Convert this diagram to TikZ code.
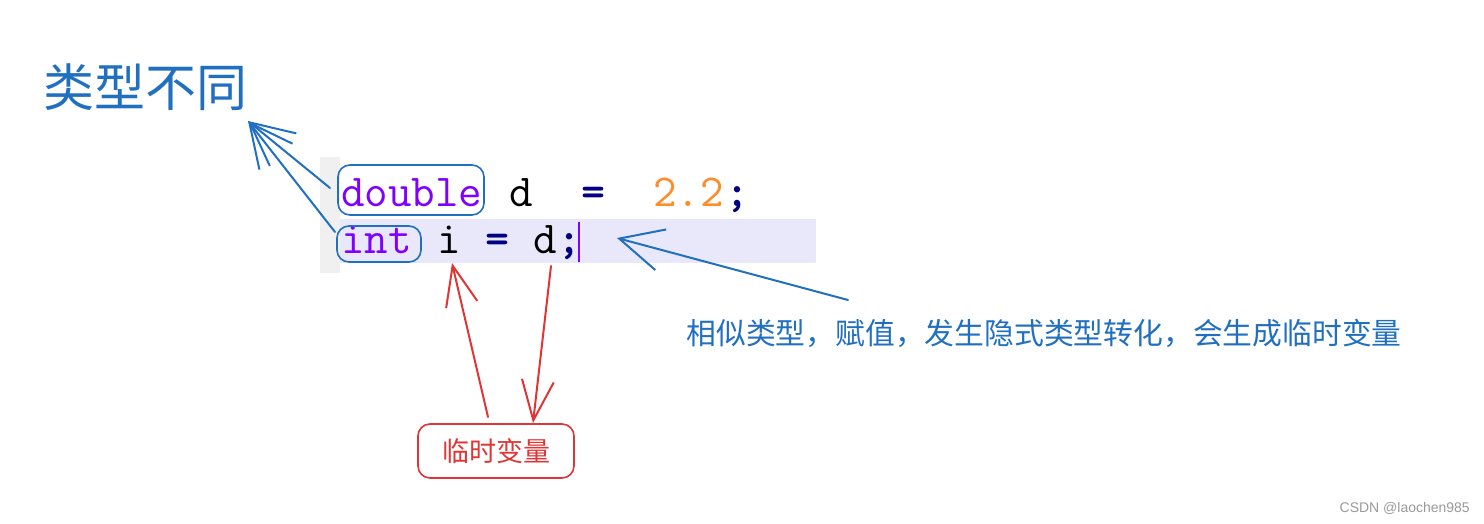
\documentclass[tikz,border=0pt]{standalone}
\usepackage{fontspec}
\usetikzlibrary{arrows.meta}
\newfontfamily\cjk{Noto Sans CJK SC}
\newfontfamily\wmfont{Liberation Sans}
\definecolor{penblue}{HTML}{2170C0}
\definecolor{penred}{HTML}{E03535}
\definecolor{kwpurple}{HTML}{8000FF}
\definecolor{opnavy}{HTML}{000080}
\definecolor{numorange}{HTML}{FF8C2A}
\definecolor{hilite}{HTML}{E8E8FA}
\definecolor{gutter}{HTML}{F0F0F0}
\tikzset{
  code/.style={inner sep=0pt, anchor=base west, font=\ttfamily\fontsize{45.7}{45.7}\selectfont},
  codeop/.style={code, text=opnavy, font=\ttfamily\bfseries\fontsize{45.7}{45.7}\selectfont},
  penbox/.style={draw=penblue, line width=1.6pt, rounded corners=12pt},
  redbox/.style={draw=penred, line width=1.6pt, rounded corners=12pt},
  bluearrow/.style={draw=penblue, line width=2pt, line cap=round, -{Straight Barb[length=43pt,width=42pt,line width=2pt]}},
  redarrow/.style={draw=penred, line width=2pt, line cap=round, -{Straight Barb[length=40pt,width=32pt,line width=2pt]}},
}
\begin{document}
\begin{tikzpicture}[x=1pt,y=-1pt]
\useasboundingbox (0,0) rectangle (1484,524);
% editor background
\fill[gutter] (320,157) rectangle (340,273);
\fill[hilite] (340,219) rectangle (816,263);
% code line 1
\node[code, text=kwpurple] (kdouble) at (341,207) {double};
\node[code, text=black] (vd1) at (509,207) {d};
\node[codeop] (eq1) at (581,207) {=};
\node[code, text=numorange] (num) at (653,207) {2.2};
\node[codeop] (semi1) at (725,207) {;};
% code line 2
\node[code, text=kwpurple] (kint) at (341,253) {int};
\node[code, text=black] (vi) at (437,253) {i};
\node[codeop] (eq2) at (485,253) {=};
\node[code, text=black] (vd2) at (533,253) {d};
\node[codeop] (semi2) at (557,253) {;};
\draw[kwpurple, line width=1.2pt] (579,222) -- (579,262);
% blue boxes
\node[penbox, minimum width=146pt, minimum height=50pt] (boxdouble) at (411,190) {};
\node[penbox, minimum width=84pt, minimum height=36pt] (boxint) at (379,244) {};
% titles
\node[text=penblue, font=\cjk\fontsize{51}{51}\selectfont, inner sep=0pt] (title) at (145,87) {类型不同};
\node[text=penblue, font=\cjk\fontsize{29.8}{29.8}\selectfont, inner sep=0pt] (note) at (1044,333) {相似类型，赋值，发生隐式类型转化，会生成临时变量};
\node[redbox, text=penred, font=\cjk\fontsize{27}{27}\selectfont, minimum width=156pt, minimum height=54pt] (temp) at (496,451) {临时变量};
\node[text=gray!80, font=\wmfont\fontsize{14}{14}\selectfont, anchor=east, inner sep=0pt] (wm) at (1470,508) {CSDN @laochen985};
% blue arrows
\coordinate (tipA) at (248,121);
\coordinate (fromA) at (330,188);
\coordinate (fromB) at (335,232);
\coordinate (tipC) at (617,238);
\coordinate (fromC) at (848,300);
\draw[bluearrow] (fromA) -- (tipA);
\draw[bluearrow] (fromB) -- (tipA);
\draw[bluearrow] (fromC) -- (tipC);
% red arrows
\coordinate (tipR1) at (452,263);
\coordinate (fromR1) at (488,417);
\coordinate (fromR2) at (551,266);
\coordinate (tipR2) at (533,423);
\draw[redarrow] (fromR1) -- (tipR1);
\draw[redarrow] (fromR2) -- (tipR2);
\end{tikzpicture}
\end{document}
